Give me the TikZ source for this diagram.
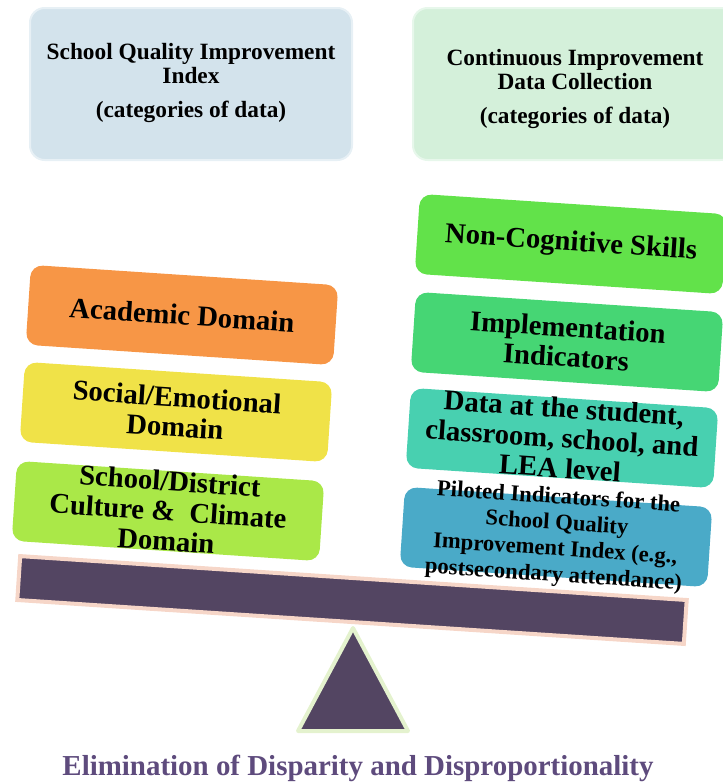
\documentclass[tikz,border=0pt]{standalone}
\usepackage{fontspec}
\setmainfont{Liberation Serif}
\usetikzlibrary{positioning}
\definecolor{sqiblue}{HTML}{D3E3EC}
\definecolor{cigreen}{HTML}{D4F0DA}
\definecolor{acadorange}{HTML}{F79646}
\definecolor{socyellow}{HTML}{F0E248}
\definecolor{climlime}{HTML}{AAE848}
\definecolor{noncoggreen}{HTML}{62E24A}
\definecolor{implgreen}{HTML}{46D674}
\definecolor{datateal}{HTML}{48D0B0}
\definecolor{pilotblue}{HTML}{4AAAC8}
\definecolor{beampurple}{HTML}{534562}
\definecolor{beamedge}{HTML}{F6D6C8}
\definecolor{fulcrumedge}{HTML}{E4F2CE}
\definecolor{goalpurple}{HTML}{5E4B7D}
\tikzset{
  topbox/.style={rounded corners=11pt, minimum width=241.5pt, minimum height=114pt, line width=1.5pt},
  toptext/.style={align=center, font=\fontsize{17.5}{18}\selectfont\bfseries},
  domainbox/.style={rounded corners=9pt, minimum width=231pt, minimum height=60pt, rotate=-3.8},
  domaintext/.style={rotate=-3.8, align=center, font=\fontsize{21.5}{22.5}\selectfont\bfseries},
}
\begin{document}
\begin{tikzpicture}[x=0.75pt, y=-0.75pt]
            \useasboundingbox (0,0) rectangle (723,782);
            % header boxes
            \node[topbox, fill=sqiblue, draw=sqiblue!55!white] (sqi) at (191,84) {};
            \node[toptext] (sqitxt) at (191,83) {School Quality Improvement\\Index\\[8pt](categories of data)};
            \node[topbox, fill=cigreen, draw=cigreen!55!white] (ci) at (574,84) {};
            \node[toptext] (citxt) at (575,89) {Continuous Improvement\\Data Collection\\[8pt](categories of data)};
            % left side of the scale
            \node[domainbox, fill=acadorange] (acad) at (182,315) {};
            \node[domaintext] (acadtxt) at (acad) {Academic Domain};
            \node[domainbox, fill=socyellow] (soc) at (176,412) {};
            \node[domaintext] (soctxt) at (soc) {Social/Emotional\\Domain};
            \node[domainbox, fill=climlime] (clim) at (168,511) {};
            \node[domaintext] (climtxt) at (clim) {School/District\\Culture \&\ \ Climate\\Domain};
            % right side of the scale
            \node[domainbox, fill=noncoggreen] (noncog) at (571,244) {};
            \node[domaintext] (noncogtxt) at (noncog) {Non-Cognitive Skills};
            \node[domainbox, fill=implgreen] (impl) at (567,342) {};
            \node[domaintext] (impltxt) at (impl) {Implementation\\Indicators};
            \node[domainbox, fill=datateal] (data) at (562,438) {};
            \node[domaintext] (datatxt) at (data) {Data at the student,\\classroom, school, and\\LEA level};
            \node[domainbox, fill=pilotblue] (pilot) at (556,537) {};
            \node[domaintext, font=\fontsize{17}{19.5}\selectfont\bfseries] (pilottxt) at (pilot) {Piloted Indicators for the\\School Quality\\Improvement Index (e.g.,\\postsecondary attendance)};
            % beam and fulcrum
            \node[draw=beamedge, fill=beampurple, line width=3pt, minimum width=501pt, minimum height=33pt, inner sep=0pt, rotate=-3.77] (beam) at (352,600) {};
            \coordinate (apex) at (353,628);
            \coordinate (baseL) at (298,731);
            \coordinate (baseR) at (408,731);
            \draw[draw=fulcrumedge, fill=beampurple, line width=3pt, line join=round] (apex) -- (baseL) -- (baseR) -- cycle;
            \node[font=\fontsize{21.7}{24}\selectfont\bfseries, text=goalpurple] (goal) at (358,768) {Elimination of Disparity and Disproportionality};
            \end{tikzpicture}
\end{document}
